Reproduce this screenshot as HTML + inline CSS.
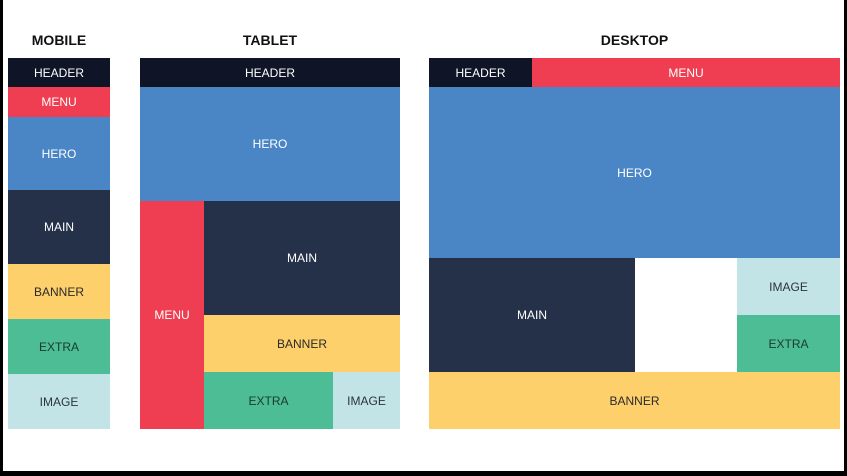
<!DOCTYPE html>
<html><head><meta charset="utf-8"><style>
body{margin:0;width:847px;height:476px;background:#000;position:relative;overflow:hidden;font-family:"Liberation Sans",sans-serif}
#bg{position:absolute;left:3px;top:0;width:841px;height:471px;background:#fff}
.b{position:absolute;display:flex;align-items:center;justify-content:center;font-size:12px;color:#fff}
.t{position:absolute;top:32px;font-size:14px;font-weight:bold;color:#111;text-align:center}
.h{background:#0f1526}.m{background:#ef3e51}.hr{background:#4a86c5}.mn{background:#243149}
.bn{background:#fdd06b;color:#2a2a2a}.ex{background:#4dbd95;color:#1a3a30}.im{background:#c3e4e6;color:#2a3440}
</style></head><body>
<div id="bg"></div>
<div class="t" style="left:8px;width:102px">MOBILE</div>
<div class="t" style="left:140px;width:260px">TABLET</div>
<div class="t" style="left:429px;width:411px">DESKTOP</div>

<div class="b h" style="left:8px;top:58px;width:102px;height:29px">HEADER</div>
<div class="b m" style="left:8px;top:87px;width:102px;height:30px">MENU</div>
<div class="b hr" style="left:8px;top:117px;width:102px;height:73px">HERO</div>
<div class="b mn" style="left:8px;top:190px;width:102px;height:74px">MAIN</div>
<div class="b bn" style="left:8px;top:264px;width:102px;height:55px">BANNER</div>
<div class="b ex" style="left:8px;top:319px;width:102px;height:55px">EXTRA</div>
<div class="b im" style="left:8px;top:374px;width:102px;height:55px">IMAGE</div>

<div class="b h" style="left:140px;top:58px;width:260px;height:29px">HEADER</div>
<div class="b hr" style="left:140px;top:87px;width:260px;height:114px">HERO</div>
<div class="b m" style="left:140px;top:201px;width:64px;height:228px">MENU</div>
<div class="b mn" style="left:204px;top:201px;width:196px;height:114px">MAIN</div>
<div class="b bn" style="left:204px;top:315px;width:196px;height:57px">BANNER</div>
<div class="b ex" style="left:204px;top:372px;width:129px;height:57px">EXTRA</div>
<div class="b im" style="left:333px;top:372px;width:67px;height:57px">IMAGE</div>

<div class="b h" style="left:429px;top:58px;width:103px;height:29px">HEADER</div>
<div class="b m" style="left:532px;top:58px;width:308px;height:29px">MENU</div>
<div class="b hr" style="left:429px;top:87px;width:411px;height:171px">HERO</div>
<div class="b mn" style="left:429px;top:258px;width:206px;height:114px">MAIN</div>
<div class="b im" style="left:737px;top:258px;width:103px;height:57px">IMAGE</div>
<div class="b ex" style="left:737px;top:315px;width:103px;height:57px">EXTRA</div>
<div class="b bn" style="left:429px;top:372px;width:411px;height:57px">BANNER</div>
</body></html>
